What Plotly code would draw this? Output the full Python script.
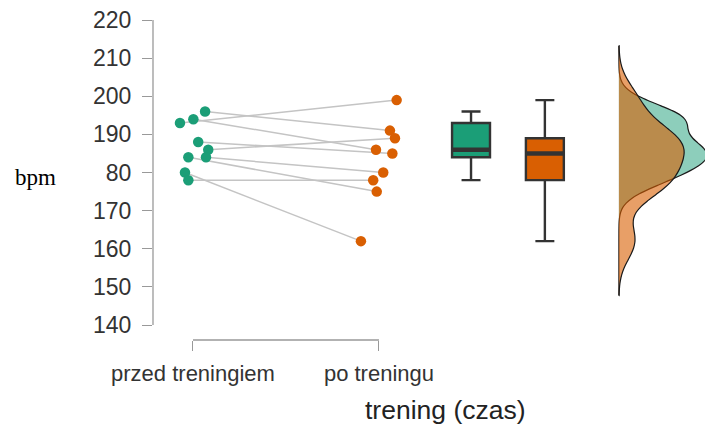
import numpy as np
import plotly.graph_objects as go

# ---------------- data ----------------
categories = ["przed treningiem", "po treningu"]
pre = [196, 194, 193, 188, 186, 184, 184, 180, 178]     # przed treningiem
post = [191, 186, 199, 185, 189, 180, 175, 162, 178]    # po treningu (paired)
pre_jitter = [0.065, 0.002, -0.070, 0.028, 0.082, 0.070, -0.025, -0.043, -0.025]
post_jitter = [0.059, -0.016, 0.095, 0.072, 0.086, 0.023, -0.012, -0.097, -0.031]
y_tickvals = [140, 150, 160, 170, 180, 190, 200, 210, 220]
y_ticktext = ["140", "150", "160", "170", "80", "190", "200", "210", "220"]

# ---------------- style / layout constants ----------------
GREEN = "#1b9e77"
ORANGE = "#d95f02"
BOX_POS = [2.495, 2.892]
BOX_W = 0.204
VIO_POS = 3.29
VIO_W_MAX = 0.946          # full width parameter of the widest density
FONT = "Liberation Sans, Arial, sans-serif"


def nrd0(v):
    v = np.asarray(v, float)
    sd = v.std(ddof=1)
    q1, q3 = np.percentile(v, [25, 75])
    return 0.9 * min(sd, (q3 - q1) / 1.34) * len(v) ** -0.2


def kde_max(v, bw, grid):
    v = np.asarray(v, float)
    d = np.exp(-0.5 * ((grid[:, None] - v[None, :]) / bw) ** 2).sum(axis=1)
    return d.max() / (len(v) * bw * np.sqrt(2 * np.pi))


bw_pre, bw_post = nrd0(pre), nrd0(post)
span = [min(min(pre) - 3 * bw_pre, min(post) - 3 * bw_post),
        max(max(pre) + 3 * bw_post, max(post) + 3 * bw_post)]
span = [min(min(pre) - 3 * bw_pre, min(post) - 3 * bw_post),
        max(max(pre) + 3 * bw_pre, max(post) + 3 * bw_post)]
grid = np.linspace(span[0], span[1], 512)
m_pre, m_post = kde_max(pre, bw_pre, grid), kde_max(post, bw_post, grid)
m_all = max(m_pre, m_post)

fig = go.Figure()

# paired connecting lines
lx, ly = [], []
for a, b, ja, jb in zip(pre, post, pre_jitter, post_jitter):
    lx += [1 + ja, 2 + jb, None]
    ly += [a, b, None]
fig.add_trace(go.Scatter(x=lx, y=ly, mode="lines",
                         line=dict(color="#c4c4c4", width=1.5),
                         hoverinfo="skip", showlegend=False))

# points
fig.add_trace(go.Scatter(x=[1 + j for j in pre_jitter], y=pre, mode="markers",
                         marker=dict(color=GREEN, size=10.5), showlegend=False))
fig.add_trace(go.Scatter(x=[2 + j for j in post_jitter], y=post, mode="markers",
                         marker=dict(color=ORANGE, size=10.5), showlegend=False))

# boxes
for vals, pos, col in [(pre, BOX_POS[0], GREEN), (post, BOX_POS[1], ORANGE)]:
    fig.add_trace(go.Box(y=vals, x0=pos, width=BOX_W, fillcolor=col,
                         line=dict(color="#333333", width=2.4),
                         whiskerwidth=0.5, boxpoints=False,
                         quartilemethod="inclusive", showlegend=False))
    med = float(np.median(vals))
    fig.add_trace(go.Scatter(x=[pos - BOX_W / 2, pos + BOX_W / 2], y=[med, med],
                             mode="lines", line=dict(color="#333333", width=4.5),
                             hoverinfo="skip", showlegend=False))

# half violins (densities), on a common density scale
for vals, bw, m, fill in [(pre, bw_pre, m_pre, "rgba(27,158,119,0.5)"),
                          (post, bw_post, m_post, "rgba(217,95,2,0.6)")]:
    fig.add_trace(go.Violin(y=vals, x0=VIO_POS, width=VIO_W_MAX * m / m_all,
                            side="positive",
                            bandwidth=bw, spanmode="manual", span=span,
                            scalemode="width",
                            points=False, fillcolor=fill,
                            line=dict(color="#1a1a1a", width=1.2),
                            showlegend=False))

# axis lines drawn like base-R axes
fig.add_shape(type="line", xref="x", yref="paper", x0=1, x1=2, y0=0, y1=0,
              line=dict(color="#999999", width=1.3))
fig.add_shape(type="line", xref="paper", yref="y", x0=0, x1=0,
              y0=y_tickvals[0], y1=y_tickvals[-1],
              line=dict(color="#999999", width=1.3))

fig.add_annotation(text="trening (czas)", xref="paper", yref="paper",
                   x=0.529, y=-0.219, xanchor="center", yanchor="middle",
                   showarrow=False, font=dict(family=FONT, size=26.5, color="#222222"))
fig.add_annotation(text="bpm", xref="paper", yref="paper",
                   x=-0.212, y=0.509, xanchor="center", yanchor="middle",
                   showarrow=False,
                   font=dict(family="Liberation Serif, Times New Roman, serif", size=23, color="#000000"))

fig.update_layout(
    width=705, height=428,
    margin=dict(l=153, r=0, t=20, b=88),
    paper_bgcolor="white", plot_bgcolor="white",
    boxmode="overlay", violinmode="overlay",
    showlegend=False,
    font=dict(family=FONT, color="#333333"),
    xaxis=dict(type="linear", range=[0.785, 3.753], showgrid=False, zeroline=False,
               showline=False, tickvals=[1, 2], ticktext=categories,
               ticks="outside", ticklen=10, tickcolor="#999999", tickwidth=1.3,
               ticklabelstandoff=4,
               tickfont=dict(family=FONT, size=22, color="#333333")),
    yaxis=dict(range=[136.07, 220.02], showgrid=False, zeroline=False, showline=False,
               tickvals=y_tickvals, ticktext=y_ticktext,
               ticks="outside", ticklen=10, tickcolor="#999999", tickwidth=1.3,
               ticklabelstandoff=6,
               tickfont=dict(family=FONT, size=23, color="#333333")),
)

fig.write_html("out.html")
